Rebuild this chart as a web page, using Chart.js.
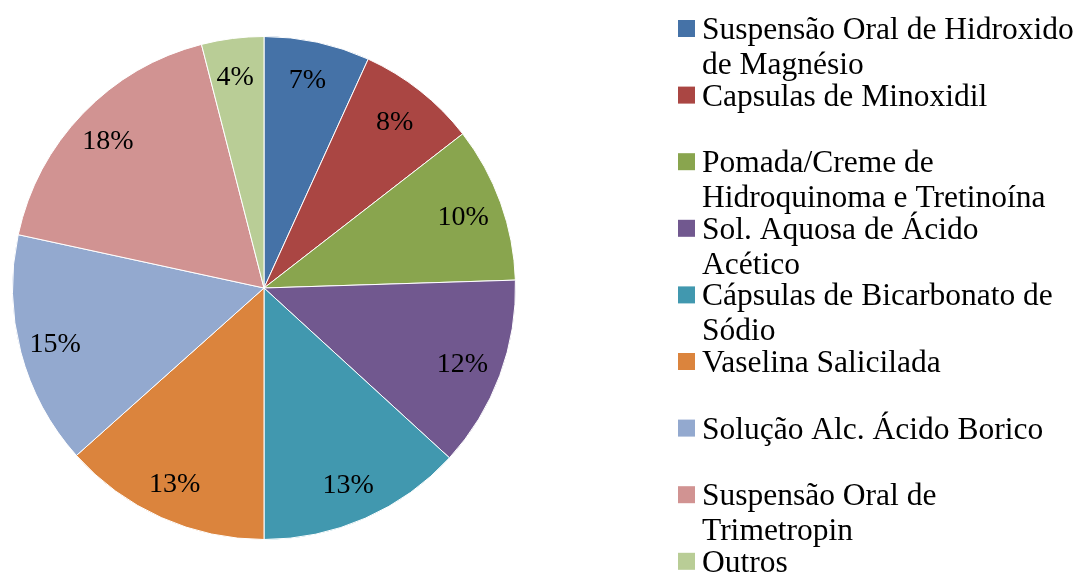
<!DOCTYPE html>
<html>
<head>
<meta charset="utf-8">
<script src="https://cdn.jsdelivr.net/npm/chart.js@4"></script>
<style>
  html, body { margin: 0; padding: 0; background: #fff; }
  #wrap { width: 1081px; height: 572px; position: relative; }
</style>
</head>
<body>
<div id="wrap"><canvas id="myChart"></canvas></div>
<script>
const labels = [
  ['Suspensão Oral de Hidroxido', 'de Magnésio'],
  ['Capsulas de Minoxidil'],
  ['Pomada/Creme de', 'Hidroquinoma e Tretinoína'],
  ['Sol. Aquosa de Ácido', 'Acético'],
  ['Cápsulas de Bicarbonato de', 'Sódio'],
  ['Vaselina Salicilada'],
  ['Solução Alc. Ácido Borico'],
  ['Suspensão Oral de', 'Trimetropin'],
  ['Outros']
];
const values = [6.8, 7.7, 10, 12.3, 13.2, 13.4, 15, 17.6, 4];
const colors = ['#4572A7', '#AA4643', '#89A54E', '#71588F', '#4198AF', '#DB843D', '#93A9CF', '#D19392', '#B9CD96'];

const serif = '"Liberation Serif", "Times New Roman", serif';

// percentage labels inside the slices
const sliceLabels = {
  id: 'sliceLabels',
  afterDatasetsDraw(chart) {
    const ctx = chart.ctx;
    const total = values.reduce((a, b) => a + b, 0);
    ctx.save();
    ctx.font = '28px ' + serif;
    ctx.fillStyle = '#000';
    ctx.textAlign = 'center';
    ctx.textBaseline = 'middle';
    chart.getDatasetMeta(0).data.forEach((arc, i) => {
      const p = arc.getProps(['x', 'y', 'startAngle', 'endAngle', 'outerRadius'], true);
      const mid = (p.startAngle + p.endAngle) / 2;
      const r = p.outerRadius * 0.85;
      const txt = Math.round(values[i] / total * 100) + '%';
      ctx.fillText(txt, p.x + Math.cos(mid) * r - 2, p.y + Math.sin(mid) * r + 2);
    });
    ctx.restore();
  }
};

// legend on the right, with wrapped lines
const sideLegend = {
  id: 'sideLegend',
  afterDraw(chart) {
    const ctx = chart.ctx;
    const x0 = 678, top = 20, step = 66.6, box = 17, lineH = 35;
    ctx.save();
    ctx.font = '31.5px ' + serif;
    ctx.textBaseline = 'alphabetic';
    ctx.textAlign = 'left';
    labels.forEach((lines, i) => {
      const y = top + step * i;
      ctx.fillStyle = colors[i];
      ctx.fillRect(x0, y, box, box);
      ctx.fillStyle = '#000';
      lines.forEach((t, j) => ctx.fillText(t, x0 + 24, y + 19 + j * lineH));
    });
    ctx.restore();
  }
};

const ctx1 = document.getElementById('myChart').getContext('2d');

const config = {
  type: 'pie',
  data: {
    labels: labels,
    datasets: [{
      data: values,
      backgroundColor: colors,
      borderColor: '#fff',
      borderWidth: 1
    }]
  },
  options: {
    responsive: true,
    maintainAspectRatio: false,
    animation: false,
    layout: {
      padding: { left: 12, top: 36, right: 1081 - 516, bottom: 572 - 540 }
    },
    plugins: {
      legend: { display: false },
      tooltip: { enabled: false }
    }
  },
  plugins: [sliceLabels, sideLegend]
};

new Chart(ctx1, config);
</script>
</body>
</html>
